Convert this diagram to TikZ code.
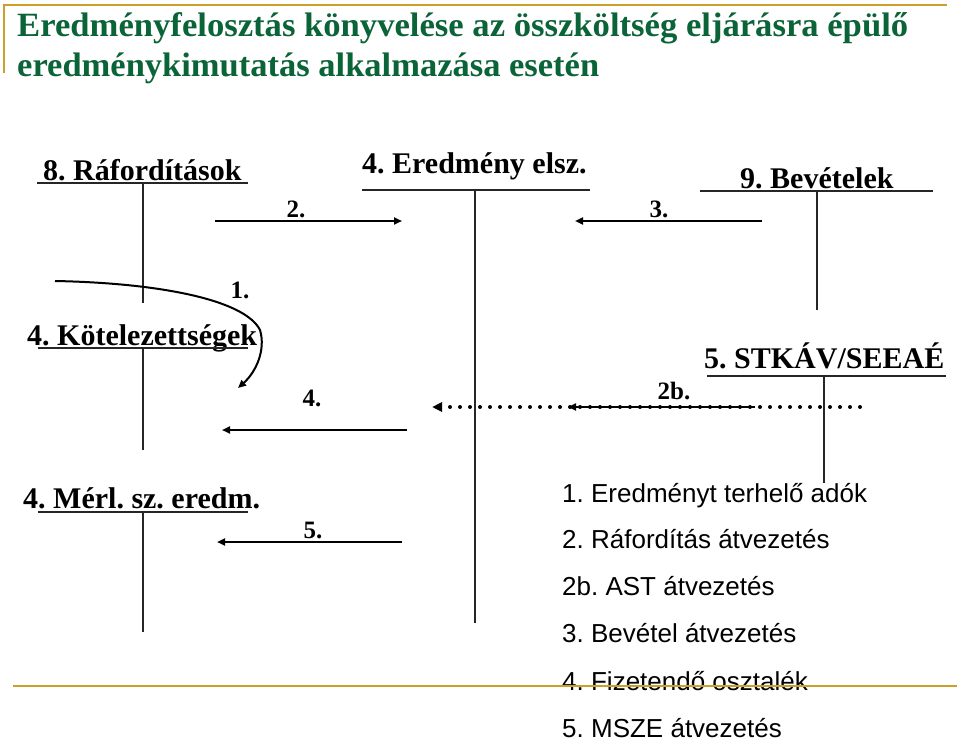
\documentclass[tikz,border=0pt]{standalone}
\usepackage{fontspec}
\setmainfont{Liberation Serif}
\setsansfont{Liberation Sans}
\usetikzlibrary{arrows.meta}
\definecolor{gold}{RGB}{204,160,40}
\definecolor{titlegreen}{RGB}{10,100,55}
\frenchspacing
\tikzset{
  acct/.style={anchor=base west,inner sep=0pt,font=\fontsize{30}{30}\selectfont\bfseries},
  lbl/.style={anchor=base,inner sep=0pt,font=\fontsize{25}{25}\selectfont\bfseries},
  legend/.style={anchor=base west,inner sep=0pt,font=\fontsize{26}{26}\selectfont\sffamily},
  ttitle/.style={anchor=base west,inner sep=0pt,text=titlegreen,font=\fontsize{34}{34}\selectfont\bfseries},
  tline/.style={line width=1.4pt,black!85},
  flow/.style={line width=2pt,-{Triangle[length=8pt,width=7pt]}},
  dotflow/.style={line width=4pt,line cap=round,dash pattern=on 0pt off 10pt,-{Triangle[length=10pt,width=9pt]}},
  goldline/.style={line width=2.2pt,gold}
}
\begin{document}
\begin{tikzpicture}[x=1pt,y=-1pt]
\useasboundingbox (0,0) rectangle (960,741);
% title
\node[ttitle] (t1) at (17,37) {\resizebox{891pt}{\height}{Eredményfelosztás könyvelése az összköltség eljárásra épülő}};
\node[ttitle] (t2) at (17,77) {\resizebox{582pt}{\height}{eredménykimutatás alkalmazása esetén}};
% gold frame
\coordinate (g2) at (947,5); \coordinate (g3) at (4,73); \coordinate (gc) at (4,5);
\draw[goldline] (g3) -- (gc) -- (g2);
% accounts
\node[acct] (rafo) at (43,180) {8. Ráfordítások};
\node[acct] (ered) at (362,173) {4. Eredmény elsz.};
\node[acct] (bev) at (740,188) {9. Bevételek};
\node[acct] (kot) at (27,345) {4. Kötelezettségek};
\node[acct] (stk) at (704,368) {5. STKÁV/SEEAÉ};
\node[acct] (merl) at (23,508) {4. Mérl. sz. eredm.};
% T lines
\coordinate (rafoL) at (37,183); \coordinate (rafoR) at (248,183);
\coordinate (rafoT) at (143,183); \coordinate (rafoB) at (143,303);
\draw[tline] (rafoL) -- (rafoR); \draw[tline] (rafoT) -- (rafoB);
\coordinate (eredL) at (362,190); \coordinate (eredR) at (590,190);
\coordinate (eredT) at (475,190); \coordinate (eredB) at (475,623);
\draw[tline] (eredL) -- (eredR); \draw[tline] (eredT) -- (eredB);
\coordinate (bevL) at (700,191); \coordinate (bevR) at (933,191);
\coordinate (bevT) at (817,191); \coordinate (bevB) at (817,310);
\draw[tline] (bevL) -- (bevR); \draw[tline] (bevT) -- (bevB);
\coordinate (kotL) at (38,348); \coordinate (kotR) at (248,348);
\coordinate (kotT) at (143,348); \coordinate (kotB) at (143,450);
\draw[tline] (kotL) -- (kotR); \draw[tline] (kotT) -- (kotB);
\coordinate (stkL) at (707,376); \coordinate (stkR) at (946,376);
\coordinate (stkT) at (824,376); \coordinate (stkB) at (824,483);
\draw[tline] (stkL) -- (stkR); \draw[tline] (stkT) -- (stkB);
\coordinate (merlL) at (38,512); \coordinate (merlR) at (248,512);
\coordinate (merlT) at (143,512); \coordinate (merlB) at (143,632);
\draw[tline] (merlL) -- (merlR); \draw[tline] (merlT) -- (merlB);
% flow arrows
\coordinate (a2s) at (215,221); \coordinate (a2e) at (402,221);
\draw[flow] (a2s) -- (a2e);
\node[lbl] (l2) at (296,217) {2.};
\coordinate (a3s) at (762,221); \coordinate (a3e) at (575,221);
\draw[flow] (a3s) -- (a3e);
\node[lbl] (l3) at (659,217) {3.};
\coordinate (a1s) at (55,281); \coordinate (a1m) at (260,330); \coordinate (a1e) at (238,388);
\draw[flow] (a1s) .. controls (160,283) and (245,300) .. (a1m) .. controls (266,350) and (256,372) .. (a1e);
\node[lbl] (l1) at (240,298) {1.};
\coordinate (a4s) at (407,430); \coordinate (a4e) at (222,430);
\draw[flow] (a4s) -- (a4e);
\node[lbl] (l4) at (312,406) {4.};
\coordinate (a2bs) at (860,407); \coordinate (a2be) at (432,407);
\draw[dotflow] (a2bs) -- (a2be);
\coordinate (a2bs2) at (755,407); \coordinate (a2be2) at (568,407);
\draw[line width=1.8pt,-{Triangle[length=8pt,width=7pt]}] (a2bs2) -- (a2be2);
\node[lbl] (l2b) at (674,399) {2b.};
\coordinate (a5s) at (402,542); \coordinate (a5e) at (217,542);
\draw[flow] (a5s) -- (a5e);
\node[lbl] (l5) at (313,538) {5.};
% legend
\node[legend] (k1) at (562,502) {1. Eredményt terhelő adók};
\node[legend] (k2) at (562,548) {2. Ráfordítás átvezetés};
\node[legend] (k2b) at (562,595) {2b. AST átvezetés};
\node[legend] (k3) at (562,642) {3. Bevétel átvezetés};
\node[legend] (k4) at (562,690) {4. Fizetendő osztalék};
\node[legend] (k5) at (562,737) {5. MSZE átvezetés};
% bottom gold line
\coordinate (gb1) at (13,686); \coordinate (gb2) at (957,686);
\draw[goldline] (gb1) -- (gb2);
\end{tikzpicture}
\end{document}
